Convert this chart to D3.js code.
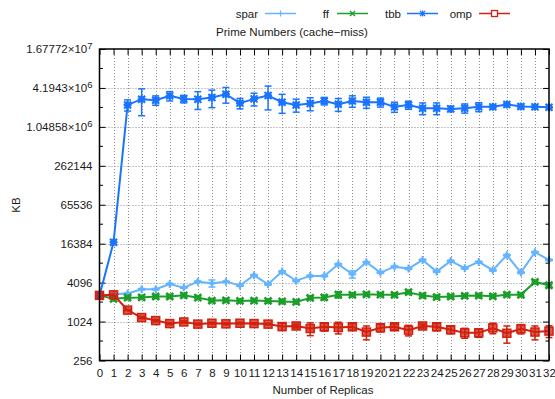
<!DOCTYPE html>
<html>
<head>
<meta charset="utf-8">
<script src="https://cdn.jsdelivr.net/npm/d3@7"></script>
<style>
body { margin: 0; background: #fff; }
svg { display: block; font-family: "Liberation Sans", Arial, sans-serif; }
</style>
</head>
<body>
<svg id="chart" width="555" height="399"></svg>
<script>
const replicas = [0,1,2,3,4,5,6,7,8,9,10,11,12,13,14,15,16,17,18,19,20,21,22,23,24,25,26,27,28,29,30,31,32];
const yTicks = [256, 1024, 4096, 16384, 65536, 262144, 1048576, 4194304, 16777216];
const yTickLabels = ["256", "1024", "4096", "16384", "65536", "262144", "1.04858×10^6", "4.1943×10^6", "1.67772×10^7"];
const seriesNames = ["spar", "ff", "tbb", "omp"];
const seriesColors = ["#64b4ff", "#1c9e2a", "#1a74ff", "#d2200e"];

const spar = [2600, 2700, 2780, 3240, 3240, 3900, 3430, 4240, 4000, 4240, 3700, 5330, 3850, 6060, 4380, 5200, 5200, 7880, 5520, 8450, 5860, 7230, 6750, 9180, 6060, 8870, 6850, 8550, 6370, 10900, 5860, 12100, 9180];
const sparErr = [0, 0, 50, 80, 80, 100, 80, 100, 500, 100, 100, 150, 100, 150, 150, 150, 150, 200, 700, 200, 150, 200, 200, 250, 150, 250, 200, 200, 200, 300, 200, 300, 250];
const ff = [2600, 2300, 2400, 2420, 2500, 2500, 2610, 2400, 2160, 2180, 2130, 2160, 2130, 2100, 2060, 2380, 2420, 2670, 2650, 2700, 2670, 2650, 2910, 2580, 2450, 2500, 2560, 2580, 2520, 2670, 2650, 4200, 3730];
const ffErr = [0, 0, 50, 50, 50, 50, 50, 50, 60, 60, 60, 60, 60, 60, 60, 100, 200, 300, 100, 100, 100, 100, 100, 100, 100, 100, 100, 100, 100, 100, 100, 150, 150];
const tbb = [2600, 17200, 2.29e6, 2.81e6, 2.71e6, 3.16e6, 2.84e6, 2.81e6, 2.98e6, 3.35e6, 2.44e6, 2.84e6, 3.20e6, 2.52e6, 2.29e6, 2.41e6, 2.64e6, 2.35e6, 2.64e6, 2.52e6, 2.52e6, 2.14e6, 2.29e6, 2.04e6, 2.04e6, 1.99e6, 2.04e6, 2.14e6, 2.14e6, 2.33e6, 2.17e6, 2.14e6, 2.11e6];
const tbbErr = [0, 0, 0.45e6, 1.25e6, 0.45e6, 0.52e6, 0.38e6, 0.86e6, 0.9e6, 0.91e6, 0.45e6, 0.63e6, 1.28e6, 0.82e6, 0.52e6, 0.55e6, 0.35e6, 0.53e6, 0.53e6, 0.49e6, 0.4e6, 0.38e6, 0.33e6, 0.42e6, 0.42e6, 0.19e6, 0.33e6, 0.34e6, 0.08e6, 0.08e6, 0.1e6, 0.05e6, 0.05e6];
const omp = [2600, 2650, 1540, 1180, 1060, 953, 1010, 935, 965, 945, 965, 953, 935, 857, 875, 800, 850, 830, 850, 705, 820, 850, 755, 875, 850, 765, 685, 685, 815, 675, 790, 705, 730];
const ompErr = [0, 0, 30, 40, 40, 30, 40, 30, 30, 30, 30, 30, 30, 110, 60, 180, 120, 170, 100, 170, 110, 90, 140, 60, 110, 100, 120, 100, 150, 200, 130, 170, 150];

const seriesValues = [spar, ff, tbb, omp];
const seriesErrors = [sparErr, ffErr, tbbErr, ompErr];

const svg = d3.select("#chart");
const L = 99.5, R = 549, T = 49, B = 360.5;
const x = d3.scaleLinear().domain([0, 32]).range([L, R]);
const y = d3.scaleLog().base(2).domain([256, 16777216]).range([B, T]);
const FS = 11.5;
const TXT = "#1a1a1a";

// grid
const grid = svg.append("g").attr("stroke", "#8c8c8c").attr("stroke-width", 1).attr("stroke-dasharray", "1,2");
grid.selectAll("line.gx").data(replicas.slice(1, -1)).join("line")
  .attr("x1", d => Math.round(x(d)) + 0.5).attr("x2", d => Math.round(x(d)) + 0.5)
  .attr("y1", T).attr("y2", B);
grid.selectAll("line.gy").data(yTicks.slice(1, -1)).join("line")
  .attr("x1", L).attr("x2", R)
  .attr("y1", d => Math.round(y(d)) + 0.5).attr("y2", d => Math.round(y(d)) + 0.5);

// minor y ticks (factor 2 between majors)
const minor = yTicks.slice(0, -1).map(v => v * 2);

// axes
const yAxis = d3.axisLeft(y).tickValues(yTicks).tickSizeInner(-6).tickSizeOuter(0).tickPadding(7)
  .tickFormat((d, i) => yTickLabels[i]);
const gy = svg.append("g").attr("transform", `translate(${L},0)`).call(yAxis);
gy.select(".domain").remove();
gy.selectAll("text").attr("font-size", FS).attr("font-family", "Liberation Sans, Arial, sans-serif").attr("fill", TXT)
  .each(function(d, i) {
    const lab = yTickLabels[i];
    if (lab.includes("^")) {
      const [base, exp] = lab.split("^");
      const t = d3.select(this).text(null);
      t.append("tspan").text(base);
      t.append("tspan").attr("dy", "-0.45em").attr("font-size", FS - 2).text(exp);
    }
  });
const yAxisR = d3.axisRight(y).tickValues(yTicks).tickSizeInner(-6).tickSizeOuter(0).tickFormat("");
const gyr = svg.append("g").attr("transform", `translate(${R},0)`).call(yAxisR);
gyr.select(".domain").remove();

svg.append("g").selectAll("line").data(minor).join("line")
  .attr("x1", L).attr("x2", L + 3.5).attr("y1", d => y(d)).attr("y2", d => y(d)).attr("stroke", "#000");
svg.append("g").selectAll("line").data(minor).join("line")
  .attr("x1", R).attr("x2", R - 3.5).attr("y1", d => y(d)).attr("y2", d => y(d)).attr("stroke", "#000");

const xAxis = d3.axisBottom(x).tickValues(replicas).tickSizeInner(-6).tickSizeOuter(0).tickPadding(8).tickFormat(d3.format("d"));
const gx = svg.append("g").attr("transform", `translate(0,${B})`).call(xAxis);
gx.select(".domain").remove();
gx.selectAll("text").attr("font-size", FS).attr("font-family", "Liberation Sans, Arial, sans-serif").attr("fill", TXT);
const xAxisT = d3.axisTop(x).tickValues(replicas).tickSizeInner(-6).tickSizeOuter(0).tickFormat("");
const gxt = svg.append("g").attr("transform", `translate(0,${T})`).call(xAxisT);
gxt.select(".domain").remove();

// series
const line = d3.line().x((d, i) => x(replicas[i])).y(d => y(d));
seriesValues.forEach((vals, si) => {
  const col = seriesColors[si];
  const g = svg.append("g");
  // error bars
  const eb = g.append("g").attr("stroke", col).attr("stroke-width", 1.5);
  vals.forEach((v, i) => {
    const e = seriesErrors[si][i];
    if (!e) return;
    const cx = x(replicas[i]);
    const y1 = y(v + e), y2 = y(Math.max(v - e, 1));
    eb.append("line").attr("x1", cx).attr("x2", cx).attr("y1", y1).attr("y2", y2);
    eb.append("line").attr("x1", cx - 3.5).attr("x2", cx + 3.5).attr("y1", y1).attr("y2", y1);
    eb.append("line").attr("x1", cx - 3.5).attr("x2", cx + 3.5).attr("y1", y2).attr("y2", y2);
  });
  g.append("path").datum(vals).attr("d", line).attr("fill", "none").attr("stroke", col).attr("stroke-width", 2);
  // markers
  const mk = g.append("g");
  vals.forEach((v, i) => {
    drawMarker(mk, si, x(replicas[i]), y(v), col, 1);
  });
});

function drawMarker(g, si, cx, cy, col, s) {
  const a = 4 * s, b = 3.5 * s, c = 3 * s;
  if (si === 0) {
    g.append("path").attr("d", `M${cx - a},${cy}H${cx + a}M${cx},${cy - a}V${cy + a}`)
      .attr("stroke", col).attr("stroke-width", 2 * s).attr("fill", "none");
    g.append("circle").attr("cx", cx).attr("cy", cy).attr("r", 2.3 * s).attr("fill", col);
  } else if (si === 1) {
    g.append("path").attr("d", `M${cx - b},${cy - b}L${cx + b},${cy + b}M${cx - b},${cy + b}L${cx + b},${cy - b}`)
      .attr("stroke", col).attr("stroke-width", 2.5 * s).attr("fill", "none");
    g.append("rect").attr("x", cx - c).attr("y", cy - c).attr("width", 2 * c).attr("height", 2 * c).attr("fill", col).attr("opacity", 0.8);
  } else if (si === 2) {
    g.append("path").attr("d", `M${cx - b},${cy - b}L${cx + b},${cy + b}M${cx - b},${cy + b}L${cx + b},${cy - b}M${cx - a},${cy}H${cx + a}M${cx},${cy - a}V${cy + a}`)
      .attr("stroke", col).attr("stroke-width", 2 * s).attr("fill", "none");
    g.append("rect").attr("x", cx - c).attr("y", cy - c).attr("width", 2 * c).attr("height", 2 * c).attr("fill", col);
  } else {
    g.append("rect").attr("x", cx - a).attr("y", cy - a).attr("width", 2 * a).attr("height", 2 * a)
      .attr("fill", col).attr("fill-opacity", 0.75).attr("stroke", col).attr("stroke-width", 1.5 * s);
  }
}

function drawLegendMarker(g, si, cx, cy, col) {
  if (si === 0) {
    g.append("path").attr("d", `M${cx},${cy - 3}V${cy + 3}`).attr("stroke", col).attr("stroke-width", 1.2);
  } else if (si === 1 || si === 2) {
    g.append("path").attr("d", `M${cx - 2.5},${cy - 2.5}L${cx + 2.5},${cy + 2.5}M${cx - 2.5},${cy + 2.5}L${cx + 2.5},${cy - 2.5}`)
      .attr("stroke", col).attr("stroke-width", 1.4).attr("fill", "none");
    if (si === 2) g.append("path").attr("d", `M${cx},${cy - 3}V${cy + 3}`).attr("stroke", col).attr("stroke-width", 1.2);
  } else {
    g.append("rect").attr("x", cx - 3).attr("y", cy - 3).attr("width", 6).attr("height", 6)
      .attr("fill", "#fff").attr("stroke", col).attr("stroke-width", 1.3);
  }
}

// frame
svg.append("rect").attr("x", L).attr("y", T).attr("width", R - L).attr("height", B - T)
  .attr("fill", "none").attr("stroke", "#000").attr("stroke-width", 1.5);

// labels
svg.append("text").attr("x", 292).attr("y", 36).attr("text-anchor", "middle").attr("font-size", FS).attr("fill", TXT)
  .text("Prime Numbers (cache−miss)");
svg.append("text").attr("x", 323).attr("y", 394).attr("text-anchor", "middle").attr("font-size", FS).attr("fill", TXT)
  .text("Number of Replicas");
svg.append("text").attr("transform", "translate(20,205) rotate(-90)").attr("text-anchor", "middle").attr("font-size", FS).attr("fill", TXT)
  .text("KB");

// legend
const legendTextRight = [258, 329, 401, 472];
const legendLineStart = [265, 337, 407, 479];
seriesNames.forEach((name, si) => {
  const col = seriesColors[si];
  svg.append("text").attr("x", legendTextRight[si]).attr("y", 18).attr("text-anchor", "end").attr("font-size", FS).attr("fill", TXT).text(name);
  const x0 = legendLineStart[si], x1 = x0 + 31, ly = 13.5;
  svg.append("line").attr("x1", x0).attr("x2", x1).attr("y1", ly).attr("y2", ly).attr("stroke", col).attr("stroke-width", 1.5);
  drawLegendMarker(svg.append("g"), si, (x0 + x1) / 2, ly, col);
});
</script>
</body>
</html>
